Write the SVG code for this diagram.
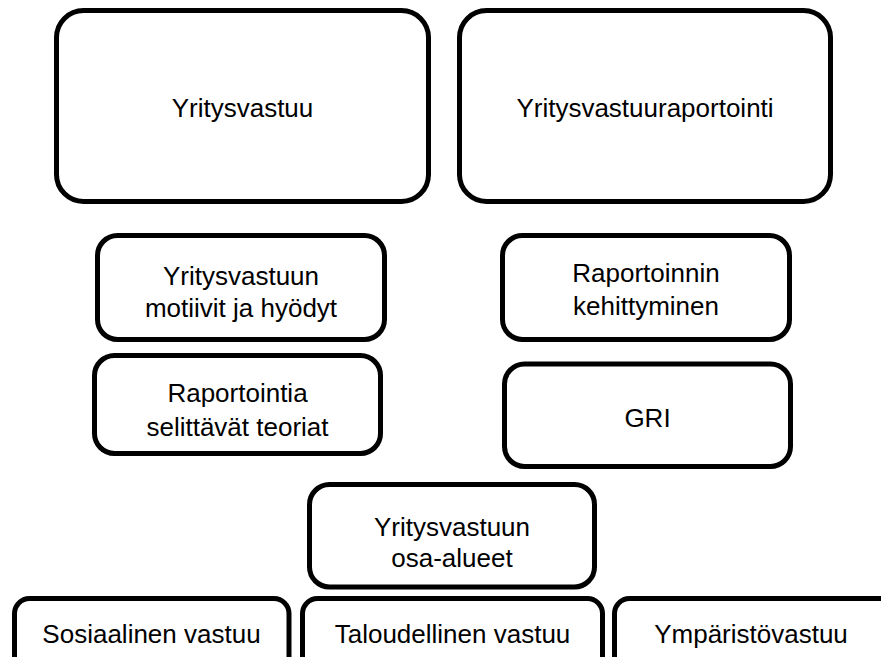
<svg xmlns="http://www.w3.org/2000/svg" width="881" height="657" viewBox="0 0 881 657">
<style>
.box{fill:#fff;stroke:#000;stroke-width:5}
.t{font-family:"Liberation Sans",Arial,sans-serif;font-size:26px;fill:#000;text-anchor:middle}
</style>
<rect x="0" y="0" width="881" height="657" fill="#fff"/>
<g id="connectors"/>
<g id="yritysvastuu">
<rect class="box" x="56.5" y="10.5" width="372" height="191" rx="27"/>
<text class="t" x="242.5" y="117">Yritysvastuu</text>
</g>
<g id="yritysvastuuraportointi">
<rect class="box" x="459.5" y="10.5" width="371" height="191" rx="27"/>
<text class="t" x="645" y="117">Yritysvastuuraportointi</text>
</g>
<g id="motiivit">
<rect class="box" x="97.5" y="235.5" width="287" height="104" rx="20"/>
<text class="t" x="241" y="285">Yritysvastuun</text>
<text class="t" x="241" y="317">motiivit ja hyödyt</text>
</g>
<g id="teoriat">
<rect class="box" x="94.5" y="355.5" width="286" height="98" rx="20"/>
<text class="t" x="237.5" y="402">Raportointia</text>
<text class="t" x="237.5" y="436">selittävät teoriat</text>
</g>
<g id="kehittyminen">
<rect class="box" x="502.5" y="235.5" width="287" height="104" rx="20"/>
<text class="t" x="646" y="282">Raportoinnin</text>
<text class="t" x="646" y="315">kehittyminen</text>
</g>
<g id="gri">
<rect class="box" x="504.5" y="364" width="286" height="102.5" rx="20"/>
<text class="t" x="647.5" y="427">GRI</text>
</g>
<g id="osa-alueet">
<rect class="box" x="309.5" y="484.5" width="285" height="102.5" rx="20"/>
<text class="t" x="452" y="536">Yritysvastuun</text>
<text class="t" x="452" y="567">osa-alueet</text>
</g>
<g id="sosiaalinen">
<rect class="box" x="14.5" y="598.5" width="274.5" height="90" rx="15"/>
<text class="t" x="151.5" y="643">Sosiaalinen vastuu</text>
</g>
<g id="taloudellinen">
<rect class="box" x="302.5" y="598.5" width="300" height="90" rx="15"/>
<text class="t" x="452.5" y="643">Taloudellinen vastuu</text>
</g>
<g id="ymparisto">
<rect class="box" x="614.5" y="598.5" width="300" height="90" rx="15"/>
<text class="t" x="751" y="643">Ympäristövastuu</text>
</g>
</svg>
